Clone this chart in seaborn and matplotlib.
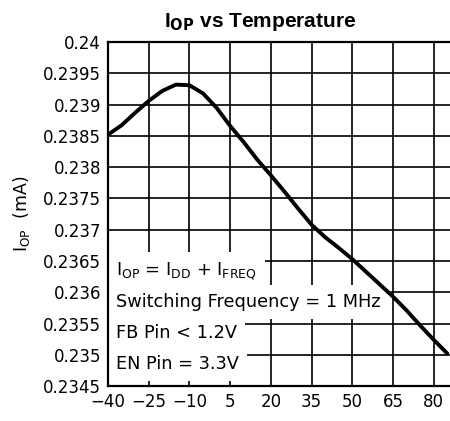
import matplotlib
matplotlib.use("Agg")
import matplotlib.pyplot as plt
import seaborn as sns
import pandas as pd

temperature = [-40, -35, -30, -25, -20, -15, -10, -5, 0, 5, 10, 15, 20, 25,
               30, 35, 40, 45, 50, 55, 60, 65, 70, 75, 80, 85]
iop = [0.23852, 0.23867, 0.23887, 0.23906, 0.23922, 0.23932, 0.23931, 0.23918,
       0.23895, 0.23866, 0.23840, 0.23812, 0.23787, 0.23761, 0.23734, 0.23708,
       0.23688, 0.23671, 0.23653, 0.23633, 0.23613, 0.23593, 0.23571, 0.23547,
       0.23524, 0.23502]
x_ticks = [-40, -25, -10, 5, 20, 35, 50, 65, 80]
y_ticks = [0.2345, 0.235, 0.2355, 0.236, 0.2365, 0.237, 0.2375, 0.238,
           0.2385, 0.239, 0.2395, 0.24]
y_tick_labels = ["0.2345", "0.235", "0.2355", "0.236", "0.2365", "0.237",
                 "0.2375", "0.238", "0.2385", "0.239", "0.2395", "0.24"]
notes = [r"I$_{\mathregular{OP}}$ = I$_{\mathregular{DD}}$ + I$_{\mathregular{FREQ}}$",
         "Switching Frequency = 1 MHz",
         "FB Pin < 1.2V",
         "EN Pin = 3.3V"]

df = pd.DataFrame({"T": temperature, "IOP": iop})

sns.set_theme(style="white")
plt.rcParams["font.family"] = ["DejaVu Sans"]
plt.rcParams["mathtext.default"] = "regular"
plt.rcParams["text.color"] = "black"

fig = plt.figure(figsize=(4.5, 4.21), dpi=100)
ax = fig.add_axes([0.24, 0.083, 0.76, 0.817])

sns.lineplot(data=df, x="T", y="IOP", ax=ax, color="black", linewidth=2.8, zorder=3,
             solid_joinstyle="round", solid_capstyle="round")

ax.set_xlim(-40, 86)
ax.set_ylim(0.2345, 0.24)
ax.set_xticks(x_ticks)
ax.set_xticklabels([str(v).replace("-", "\u2212") for v in x_ticks])
ax.set_yticks(y_ticks)
ax.set_yticklabels(y_tick_labels)
ax.grid(True, color="black", linewidth=1.2)
ax.set_axisbelow(True)
ax.tick_params(axis="both", labelsize=12, colors="black", length=0, pad=5)
for side in ["left", "bottom", "top"]:
    ax.spines[side].set_color("black")
    ax.spines[side].set_linewidth(1.6)
ax.spines["right"].set_visible(False)

ax.set_xlabel("")
ax.set_ylabel(r"I$_{\mathregular{OP}}$  (mA)", fontsize=12.5, color="black", labelpad=8)

fig.text(0.578, 0.947, r"I$_{\mathbf{OP}}$ vs Temperature", ha="center", va="center",
         fontsize=15, fontweight="bold", color="black", family=["Liberation Sans"])

ypos = [0.335, 0.245, 0.155, 0.063]
for txt, yy in zip(notes, ypos):
    ax.text(0.023, yy, txt, transform=ax.transAxes, fontsize=12.8, color="black",
            ha="left", va="center", zorder=2,
            bbox=dict(boxstyle="square,pad=0.45", fc="white", ec="none"))

fig.savefig("out.png", dpi=100)
